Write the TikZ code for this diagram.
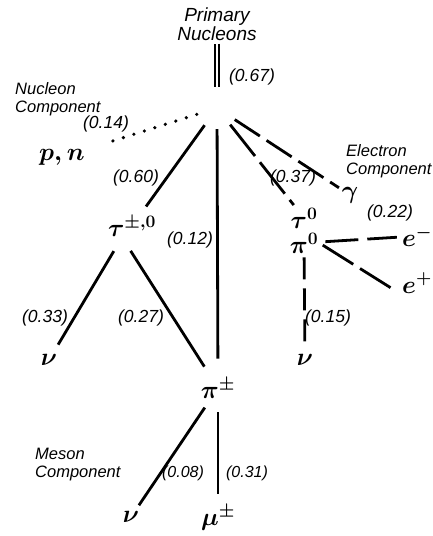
\RequirePackage{fix-cm}
\documentclass[tikz,border=0pt]{standalone}
\usepackage{amsmath,mathtools}
\usepackage{fontspec}
\setsansfont{Liberation Sans}
\usepackage{tikz}
\usetikzlibrary{positioning}

\tikzset{
  particle/.style={inner sep=1pt, font=\fontsize{25}{28}\selectfont\boldmath},
  frac/.style={inner sep=1pt, font=\sffamily\itshape\fontsize{17.5}{20}\selectfont},
  smallfrac/.style={frac, font=\sffamily\itshape\fontsize{16}{18}\selectfont},
  comp/.style={inner sep=0pt, align=left, font=\sffamily\itshape\fontsize{16.5}{18}\selectfont},
  branch/.style={line width=2.8pt},
  dotbranch/.style={line width=3.6pt, line cap=round, dash pattern=on 0pt off 11pt},
  dashbranch/.style={line width=2.8pt, dash pattern=on 30pt off 8pt},
}

\begin{document}
\begin{tikzpicture}[x=1pt, y=-1pt]
    \useasboundingbox (0,0) rectangle (433,536);

    % Primary nucleons and the branching point
    \node[comp, align=center, font=\sffamily\itshape\fontsize{19}{19}\selectfont] (prim) at (217,24) {Primary\\Nucleons};
    \node[circle, minimum size=42pt, inner sep=0pt] (hub) at (217,108) {};
    \draw[line width=2pt, double, double distance=2pt, shorten <=3pt] (prim) -- (hub);
    \node[frac] (l067) at (252,77) {(0.67)};

    % Nucleon component
    \node[comp, anchor=west] (nucomp) at (15,99) {Nucleon\\Component};
    \node[particle] (pn) at (62,157) {$p,n$};
    \draw[dotbranch, shorten >=24pt] (hub) -- (pn);
    \node[frac] (l014) at (106,124) {(0.14)};

    % Charged and neutral tau
    \node[particle] (tau) at (132,226) {$\tau^{\pm,0}$};
    \draw[branch, shorten >=10pt] (hub) -- (tau);
    \node[frac] (l060) at (136,178) {(0.60)};
    \node[particle] (nuA) at (49,360) {$\nu$};
    \node[particle] (piC) at (218,388) {$\pi^{\pm}$};
    \draw[branch, shorten <=16pt, shorten >=10pt] ([xshift=-10pt]tau.south) -- (nuA);
    \draw[branch, shorten <=16pt, shorten >=12pt] ([xshift=-10pt]tau.south) -- (piC);
    \node[frac] (l033) at (45,318) {(0.33)};
    \node[frac] (l027) at (141,318) {(0.27)};

    % Direct charged pions
    \draw[branch, shorten >=18pt] (hub) -- (piC);
    \node[frac] (l012) at (190,240) {(0.12)};

    % Electron component
    \node[comp, anchor=west] (elcomp) at (346,161) {Electron\\Component};
    \node[particle] (gam) at (350,195) {$\gamma$};
    \draw[dashbranch, shorten >=2pt] (hub) -- (gam);
    \node[particle] (tau0) at (304,218) {$\tau^0$};
    \node[particle] (pi0) at (304,243) {$\pi^0$};
    \draw[dashbranch, dash pattern=on 40pt off 8pt, shorten >=2pt] (hub) -- (tau0);
    \node[frac] (l037) at (293,178) {(0.37)};
    \node[particle] (em) at (417,236) {$e^-$};
    \node[particle] (ep) at (417,283) {$e^+$};
    \draw[dashbranch, dash pattern=on 33pt off 9pt, shorten <=6pt, shorten >=4pt] (pi0) -- (em);
    \draw[dashbranch, dash pattern=on 36pt off 8pt, shorten <=4pt, shorten >=10pt] (pi0.east) -- (ep.south west);
    \node[frac] (l022) at (390,213) {(0.22)};
    \node[particle] (nuB) at (305,360) {$\nu$};
    \draw[dashbranch, dash pattern=on 22pt off 9pt, shorten <=3pt, shorten >=4pt] (pi0) -- (nuB);
    \node[frac] (l015) at (328,318) {(0.15)};

    % Meson component
    \node[comp, anchor=west] (mecomp) at (35,465) {Meson\\Component};
    \node[particle] (nuC) at (131,517) {$\nu$};
    \node[particle] (mu) at (218,518) {$\mu^{\pm}$};
    \draw[branch, shorten <=10pt, shorten >=6pt] (piC) -- (nuC);
    \draw[branch, shorten <=13pt, shorten >=10pt] (piC) -- (mu);
    \node[smallfrac] (l008) at (183,473) {(0.08)};
    \node[smallfrac] (l031) at (247,473) {(0.31)};
\end{tikzpicture}
\end{document}
